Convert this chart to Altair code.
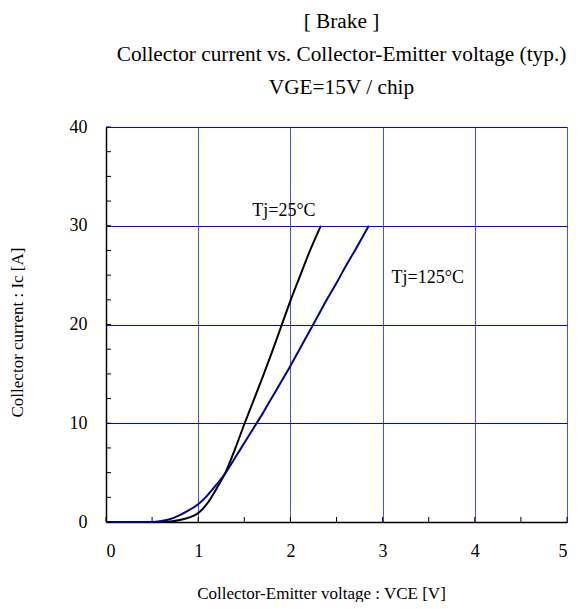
import altair as alt
import pandas as pd

# Tj = 25°C curve (black)
v25 = [0.0, 0.6, 0.7, 0.8, 0.9, 1.0, 1.1, 1.2, 1.3, 1.4, 1.5, 1.6, 1.7, 1.8, 1.9, 2.0, 2.1, 2.2, 2.33]
i25 = [0.0, 0.0, 0.05, 0.2, 0.45, 0.9, 1.9, 3.4, 5.1, 7.4, 9.9, 12.3, 14.7, 17.2, 19.8, 22.4, 24.8, 27.2, 30.0]
# Tj = 125°C curve (navy)
v125 = [0.0, 0.5, 0.6, 0.7, 0.8, 0.9, 1.0, 1.1, 1.2, 1.3, 1.4, 1.5, 1.6, 1.7, 1.8, 1.9, 2.0, 2.1, 2.2, 2.3, 2.4, 2.5, 2.6, 2.7, 2.85]
i125 = [0.0, 0.0, 0.1, 0.3, 0.7, 1.2, 1.8, 2.7, 3.8, 5.0, 6.5, 8.0, 9.5, 11.0, 12.6, 14.2, 15.8, 17.5, 19.2, 20.9, 22.6, 24.2, 25.9, 27.5, 30.0]

x_major = [0, 1, 2, 3, 4, 5]
y_major = [0, 10, 20, 30, 40]
x_minor = [0, 0.5, 1, 1.5, 2, 2.5, 3, 3.5, 4, 4.5, 5]
y_minor = [0, 2.5, 5, 7.5, 10, 12.5, 15, 17.5, 20, 22.5, 25, 27.5, 30, 32.5, 35, 37.5, 40]

label_text = ["Tj=25°C", "Tj=125°C"]
label_x = [1.93, 3.49]
label_y = [31.5, 24.7]

title_lines = ["[ Brake ]", "Collector current vs. Collector-Emitter voltage (typ.)", "VGE=15V / chip"]
x_title = "Collector-Emitter voltage : VCE [V]"
y_title = "Collector current : Ic [A]"

FONT = "Liberation Serif"
W, H = 461, 395

curves = pd.concat([
    pd.DataFrame({"v": v25, "i": i25, "s": "25"}),
    pd.DataFrame({"v": v125, "i": i125, "s": "125"}),
])

xs = alt.Scale(domain=[0, 5], nice=False, zero=False)
ys = alt.Scale(domain=[0, 40], nice=False)

base_x = alt.X("v:Q", scale=xs, axis=alt.Axis(
    values=x_major, title=x_title, grid=True, gridColor="#4d4dff", gridWidth=1, gridOpacity=1,
    ticks=False, tickSize=0, labelPadding=20, labelFontSize=18, labelFont=FONT,
    labelColor="#000", domainColor="#000", domainWidth=1.5,
    titleFont=FONT, titleFontSize=17, titleFontWeight="normal", titleColor="#000",
    titleX=215, titleY=71, titleBaseline="middle", format="d"))
base_y = alt.Y("i:Q", scale=ys, axis=alt.Axis(
    values=y_major, title=y_title, grid=True, gridColor="#0000ff", gridWidth=1, gridOpacity=1,
    ticks=False, tickSize=0, labelPadding=19, labelFontSize=18, labelFont=FONT,
    labelColor="#000", domainColor="#000", domainWidth=1.5,
    titleFont=FONT, titleFontSize=17, titleFontWeight="normal", titleColor="#000",
    titleX=-84, titleY=205, titleAngle=270, titleBaseline="alphabetic", titleAlign="center",
    format="d"))

lines = alt.Chart(curves).mark_line(strokeWidth=2, interpolate="monotone").encode(
    x=base_x, y=base_y,
    color=alt.Color("s:N", scale=alt.Scale(domain=["25", "125"], range=["#000000", "#000099"]), legend=None),
    detail="s:N",
)

xt = alt.Chart(pd.DataFrame({"v": x_minor})).mark_rule(color="#000", strokeWidth=1).encode(
    x=alt.X("v:Q", scale=xs), y=alt.value(H), y2=alt.value(H - 5))
yt = alt.Chart(pd.DataFrame({"i": y_minor})).mark_rule(color="#000", strokeWidth=1).encode(
    y=alt.Y("i:Q", scale=ys), x=alt.value(0), x2=alt.value(5))

labels = alt.Chart(pd.DataFrame({"t": label_text, "v": label_x, "i": label_y})).mark_text(
    font=FONT, fontSize=18, color="#000").encode(
    x=alt.X("v:Q", scale=xs), y=alt.Y("i:Q", scale=ys), text="t:N")

chart = alt.layer(lines, xt, yt, labels).properties(
    width=W, height=H,
    title=alt.TitleParams(text=title_lines, font=FONT, fontSize=21.3, fontWeight="normal",
                          color="#000", anchor="middle", lineHeight=33, offset=20, dx=5),
    autosize=alt.AutoSizeParams(type="none"),
    padding={"left": 98, "top": 119, "right": 4, "bottom": 80},
).configure_view(stroke="#111155", strokeWidth=1.5).configure(background="white")

chart.save("out.html", embed_options={"renderer": "svg", "actions": False})
